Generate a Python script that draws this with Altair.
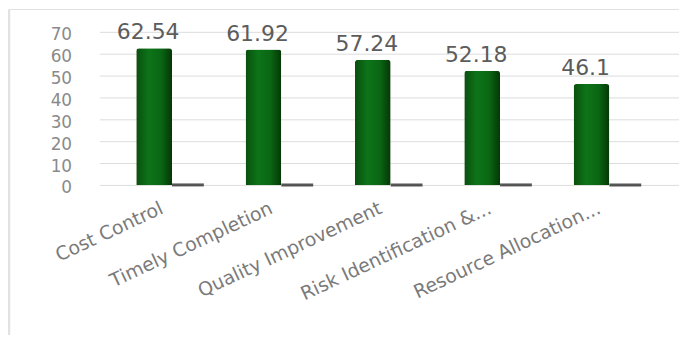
import altair as alt
import pandas as pd

categories = ["Cost Control", "Timely Completion", "Quality Improvement",
              "Risk Identification &...", "Resource Allocation..."]
values = [62.54, 61.92, 57.24, 52.18, 46.1]
y_ticks = [0, 10, 20, 30, 40, 50, 60, 70]

df = pd.DataFrame({"category": categories, "value": values, "zero": [0] * len(values)})
frame_df = pd.DataFrame({"k": [0]})

FONT = "DejaVu Sans"

xscale = alt.Scale(domain=categories, paddingInner=0, paddingOuter=0.15, align=0)
x_enc = alt.X(
    "category:N", sort=categories, scale=xscale,
    axis=alt.Axis(title=None, labelAngle=-25, labelAlign="right", labelBaseline="middle",
                  labelOffset=8, labelPadding=22, ticks=False, domain=False,
                  labelFont=FONT, labelFontSize=19, labelColor="#7a7a7a", labelLimit=400,
                  labelOverlap=False),
)
yscale = alt.Scale(domain=[0, 70], nice=False)
yaxis = alt.Axis(title=None, values=y_ticks, grid=True, gridColor="#dcdcdc", gridWidth=1,
                 domain=False, ticks=False, labelPadding=28, labelOverlap=False,
                 labelOffset=3,
                 labelFont=FONT, labelFontSize=17, labelColor="#8a8a8a")
y_enc = alt.Y("value:Q", scale=yscale, axis=yaxis)
y_zero = alt.Y("zero:Q", scale=yscale, axis=yaxis)

gradient = alt.Gradient(
    gradient="linear",
    stops=[
        alt.GradientStop(color="#0a4f0e", offset=0),
        alt.GradientStop(color="#0d7419", offset=0.35),
        alt.GradientStop(color="#0a6613", offset=0.7),
        alt.GradientStop(color="#053706", offset=1),
    ],
    x1=0, x2=1, y1=0, y2=0,
)

base = alt.Chart(df)

bars = base.mark_bar(size=36, color=gradient, cornerRadiusTopLeft=3,
                     cornerRadiusTopRight=3).encode(x=x_enc, y=y_enc)

shadow = base.mark_tick(size=32, thickness=3, xOffset=34, color="#3a3a3a",
                        opacity=0.85).encode(x=x_enc, y=y_zero)

labels = base.mark_text(font=FONT, fontSize=22, color="#5c5c5c", dy=-16, dx=-6,
                        baseline="middle").encode(
    x=x_enc, y=y_enc, text=alt.Text("value:Q", format="~g"))

top_border = alt.Chart(frame_df).mark_rule(color="#e0e0e0", strokeWidth=1).encode(
    x=alt.value(-91), x2=alt.value(590), y=alt.value(-22.5))
left_border = alt.Chart(frame_df).mark_rule(color="#e2e2e2", strokeWidth=2.5).encode(
    x=alt.value(-91), y=alt.value(-22.5), y2=alt.value(400))

chart = alt.layer(top_border, left_border, bars, shadow, labels).properties(
    width=583, height=154,
    padding={"left": 92, "top": 23, "right": 0, "bottom": 150},
    autosize=alt.AutoSizeParams(type="none"),
).configure_view(stroke=None)

chart.save("out.html", embed_options={"renderer": "svg", "actions": False})
